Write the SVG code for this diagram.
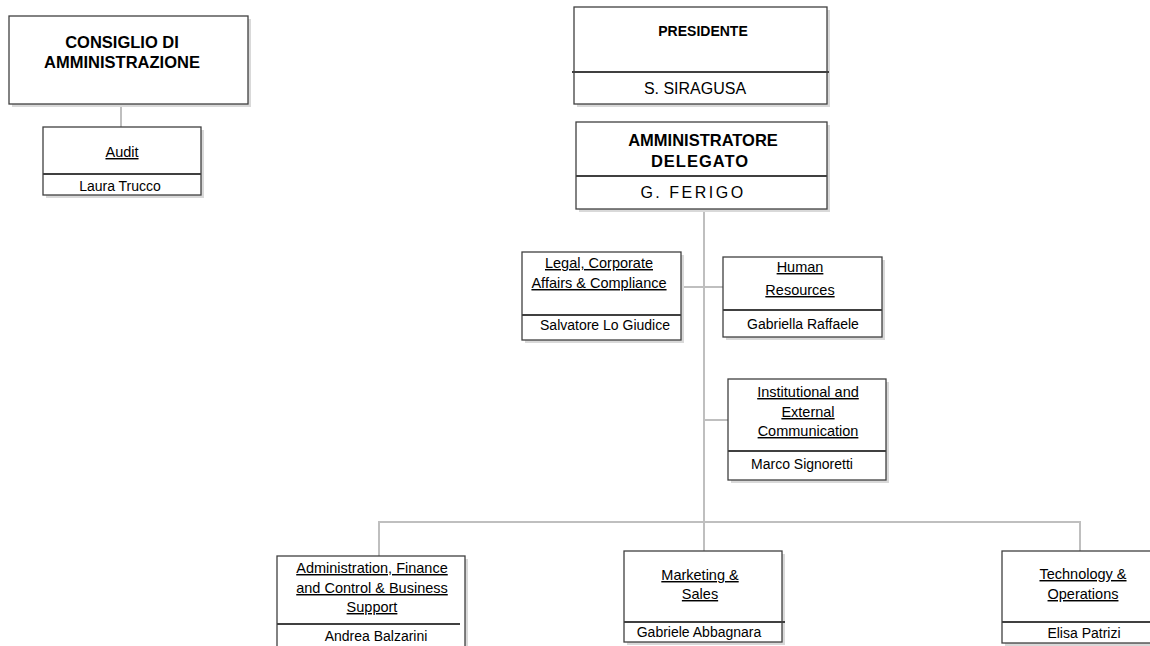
<svg xmlns="http://www.w3.org/2000/svg" width="1150" height="646" viewBox="0 0 1150 646">
<style>
.box{fill:#fff;stroke:#404040;stroke-width:1.3}
.sh{fill:#d9d9d9}
.div{stroke:#404040;stroke-width:2}
.con{stroke:#bfbfbf;stroke-width:2;fill:none}
text{font-family:"Liberation Sans",Arial,sans-serif;fill:#000;text-anchor:middle}
.h{font-weight:bold;font-size:16.5px}
.t{font-size:14.5px;text-decoration:underline}
.n{font-size:14px}
.big{font-size:16px}
</style>
<rect width="1150" height="646" fill="#fff"/>
<g id="connectors">
<line class="con" x1="121" y1="104" x2="121" y2="127"/>
<line class="con" x1="704" y1="209" x2="704" y2="551"/>
<line class="con" x1="681" y1="287" x2="723" y2="287"/>
<line class="con" x1="704" y1="420" x2="728" y2="420"/>
<polyline class="con" points="379,556 379,522 1080,522 1080,551"/>
</g>
<g id="consiglio">
<rect class="sh" x="12" y="19" width="239" height="88"/>
<rect class="box" x="9" y="16" width="239" height="88"/>
<text class="h" x="122" y="48">CONSIGLIO DI</text>
<text class="h" x="122" y="68">AMMINISTRAZIONE</text>
</g>
<g id="audit">
<rect class="sh" x="46" y="130" width="158" height="68"/>
<rect class="box" x="43" y="127" width="158" height="68"/>
<line class="div" x1="43" y1="174" x2="201" y2="174"/>
<text class="t" x="122" y="157" font-size="16px">Audit</text>
<text class="n" x="120" y="191">Laura Trucco</text>
</g>
<g id="presidente">
<rect class="sh" x="577" y="10" width="253" height="97"/>
<rect class="box" x="574" y="7" width="253" height="97"/>
<line class="div" x1="572" y1="72" x2="829" y2="72" stroke-width="2.5"/>
<text x="703" y="36" font-weight="bold" font-size="14px">PRESIDENTE</text>
<text class="big" x="695" y="94">S. SIRAGUSA</text>
</g>
<g id="ad">
<rect class="sh" x="579" y="125" width="251" height="87"/>
<rect class="box" x="576" y="122" width="251" height="87"/>
<line class="div" x1="576" y1="176" x2="827" y2="176"/>
<text class="h" x="703" y="146" font-size="16px">AMMINISTRATORE</text>
<text class="h" x="700" y="167" font-size="16px" letter-spacing="1">DELEGATO</text>
<text class="big" x="693" y="198" letter-spacing="2.5">G. FERIGO</text>
</g>
<g id="legal">
<rect class="sh" x="525" y="255" width="159" height="88"/>
<rect class="box" x="522" y="252" width="159" height="88"/>
<line class="div" x1="522" y1="315" x2="681" y2="315"/>
<text class="t" x="599" y="268">Legal, Corporate</text>
<text class="t" x="599" y="288">Affairs &amp; Compliance</text>
<text class="n" x="605" y="330">Salvatore Lo Giudice</text>
</g>
<g id="hr">
<rect class="sh" x="726" y="260" width="159" height="80"/>
<rect class="box" x="723" y="257" width="159" height="80"/>
<line class="div" x1="723" y1="310" x2="882" y2="310"/>
<text class="t" x="800" y="272">Human</text>
<text class="t" x="800" y="295">Resources</text>
<text class="n" x="803" y="329">Gabriella Raffaele</text>
</g>
<g id="institutional">
<rect class="sh" x="731" y="382" width="158" height="101"/>
<rect class="box" x="728" y="379" width="158" height="101"/>
<line class="div" x1="728" y1="451" x2="886" y2="451"/>
<text class="t" x="808" y="397">Institutional and</text>
<text class="t" x="808" y="417">External</text>
<text class="t" x="808" y="436">Communication</text>
<text class="n" x="802" y="469">Marco Signoretti</text>
</g>
<g id="admin">
<rect class="sh" x="280" y="559" width="188" height="95"/>
<rect class="box" x="277" y="556" width="188" height="95"/>
<line class="div" x1="277" y1="624" x2="460" y2="624"/>
<text class="t" x="372" y="573">Administration, Finance</text>
<text class="t" x="372" y="593">and Control &amp; Business</text>
<text class="t" x="372" y="612">Support</text>
<text class="n" x="376" y="641">Andrea Balzarini</text>
</g>
<g id="marketing">
<rect class="sh" x="627" y="554" width="158" height="91"/>
<rect class="box" x="624" y="551" width="158" height="91"/>
<line class="div" x1="624" y1="622" x2="785" y2="622"/>
<text class="t" x="700" y="580">Marketing &amp;</text>
<text class="t" x="700" y="599">Sales</text>
<text class="n" x="699" y="637">Gabriele Abbagnara</text>
</g>
<g id="technology">
<rect class="sh" x="1005" y="554" width="150" height="92"/>
<rect class="box" x="1002" y="551" width="150" height="92"/>
<line class="div" x1="1002" y1="622" x2="1152" y2="622"/>
<text class="t" x="1083" y="579">Technology &amp;</text>
<text class="t" x="1083" y="599">Operations</text>
<text class="n" x="1084" y="638">Elisa Patrizi</text>
</g>
</svg>
